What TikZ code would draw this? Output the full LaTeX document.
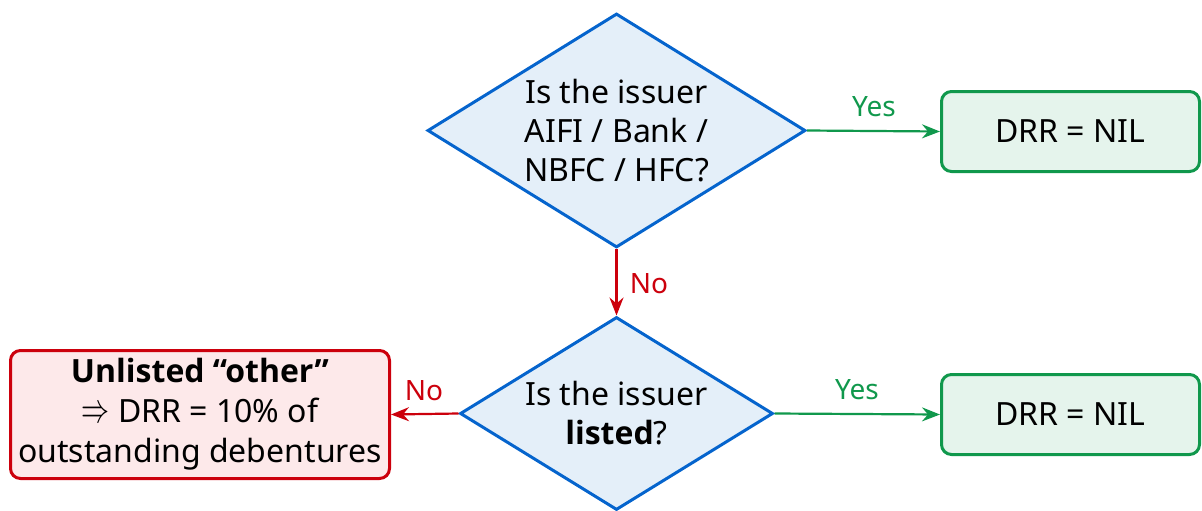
\RequirePackage{fix-cm}
\documentclass[tikz,border=0pt]{standalone}
\usepackage{graphicx}
\usepackage{fontspec}
\setmainfont{Noto Sans}
\newfontfamily\bfam{Open Sans}
\newcommand{\heavy}[1]{{\bfam\bfseries #1}}
\newcommand{\implyarrow}{\smash{\scalebox{1}[1.5]{\resizebox{28pt}{!}{$\Rightarrow$}}}}
\usetikzlibrary{shapes.geometric,arrows.meta}
\definecolor{dblue}{RGB}{5,100,205}
\definecolor{lblue}{RGB}{228,239,249}
\definecolor{dgreen}{RGB}{16,152,76}
\definecolor{lgreen}{RGB}{229,244,236}
\definecolor{dred}{RGB}{204,0,12}
\definecolor{lred}{RGB}{253,233,234}
\tikzset{
  decision/.style={diamond, draw=dblue, fill=lblue, line width=3pt, inner sep=0pt, aspect=1.6},
  dtext/.style={align=center, font=\fontsize{32}{39}\selectfont, inner sep=0pt},
  okbox/.style={rectangle, rounded corners=10pt, draw=dgreen, fill=lgreen, line width=3pt,
    minimum width=258pt, minimum height=80pt, font=\fontsize{32}{39}\selectfont, inner sep=0pt},
  badbox/.style={rectangle, rounded corners=10pt, draw=dred, fill=lred, line width=3pt,
    minimum width=379pt, minimum height=128pt, align=center, font=\fontsize{32}{40}\selectfont, inner sep=0pt},
  tipstyle/.style={-{Stealth[length=18pt,width=14pt,inset=6pt]}},
  yesarrow/.style={draw=dgreen, line width=2.2pt, tipstyle},
  noarrow/.style={draw=dred, line width=2.2pt, tipstyle},
  yeslbl/.style={text=dgreen, font=\fontsize{28}{32}\selectfont, inner sep=0pt},
  nolbl/.style={text=dred, font=\fontsize{28}{32}\selectfont, inner sep=0pt},
}
\begin{document}
\begin{tikzpicture}[x=1pt,y=-1pt]
\useasboundingbox (0,0) rectangle (1202,511);
\node[decision, minimum width=378pt, minimum height=234pt] (d1) at (616.5,130.5) {};
\node[dtext] (d1t) at (d1.center) {Is the issuer\\AIFI / Bank /\\NBFC / HFC?};
\node[decision, minimum width=313pt, minimum height=193pt] (d2) at (616.5,413.5) {};
\node[dtext] (d2t) at (d2.center) {Is the issuer\\\heavy{listed}?};
\node[okbox] (r1) at (1070.5,131.5) {DRR = NIL};
\node[okbox] (r2) at (1070.5,414.5) {DRR = NIL};
\node[badbox] (r3) at (200,414.5) {\heavy{Unlisted “other”}\\\implyarrow{} DRR = 10\% of\\outstanding debentures};
\draw[yesarrow] (d1.east) -- (r1.west);
\draw[noarrow] (d1.south) -- (d2.north);
\draw[yesarrow] (d2.east) -- (r2.west);
\draw[noarrow] (d2.west) -- (r3.east);
\node[yeslbl] (l1) at (874,107) {Yes};
\node[nolbl] (l2) at (649,284) {No};
\node[yeslbl] (l3) at (857,390) {Yes};
\node[nolbl] (l4) at (424,391) {No};
\end{tikzpicture}
\end{document}
